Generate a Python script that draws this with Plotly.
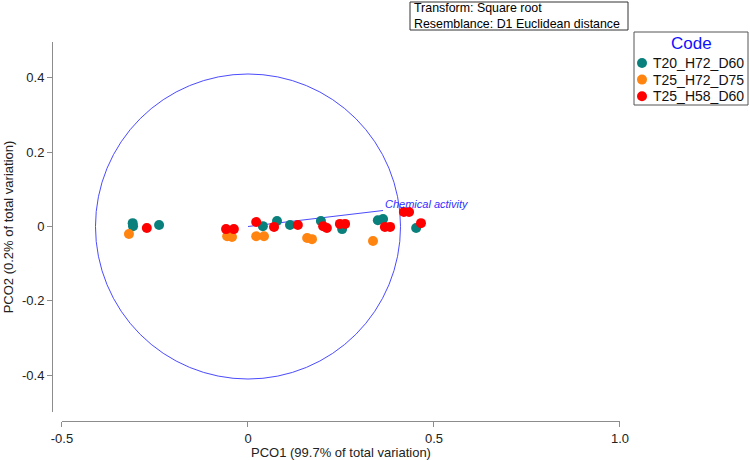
import plotly.graph_objects as go

# ---- data ----
groups = ["T20_H72_D60", "T25_H72_D75", "T25_H58_D60"]
colors = ["#0a807c", "#ff8410", "#ff0000"]

t20_x = [-0.310, -0.309, -0.239, 0.040, 0.078, 0.113, 0.196, 0.253, 0.349, 0.363, 0.452]
t20_y = [0.009, 0.001, 0.004, 0.001, 0.015, 0.004, 0.015, -0.007, 0.017, 0.020, -0.004]

t25a_x = [-0.320, -0.056, -0.043, 0.022, 0.043, 0.159, 0.172, 0.336]
t25a_y = [-0.020, -0.026, -0.028, -0.026, -0.026, -0.031, -0.034, -0.039]

t25b_x = [-0.272, -0.059, -0.038, 0.022, 0.070, 0.134, 0.202, 0.212, 0.247, 0.261,
          0.368, 0.382, 0.419, 0.433, 0.465]
t25b_y = [-0.004, -0.007, -0.007, 0.012, -0.001, 0.004, 0.001, -0.004, 0.007, 0.007,
          -0.001, -0.001, 0.039, 0.039, 0.009]

xs = [t20_x, t25a_x, t25b_x]
ys = [t20_y, t25a_y, t25b_y]

vector_name = "Chemical activity"
vector_end = (0.363, 0.043)
circle_r = 0.41

x_ticks = [-0.5, 0, 0.5, 1.0]
x_ticktext = ["-0.5", "0", "0.5", "1.0"]
y_ticks = [-0.4, -0.2, 0, 0.2, 0.4]
y_ticktext = ["-0.4", "-0.2", "0", "0.2", "0.4"]

info_lines = ["Transform: Square root", "Resemblance: D1 Euclidean distance"]
legend_title = "Code"

FONT = "Liberation Sans, Arial, sans-serif"
BLUE = "#4b4bff"
AXC = "#8c8c8c"

# plot-area geometry in pixels (for placing paper-referenced decorations)
W, H = 750, 460
ML, MR, MT, MB = 52, 130, 42, 39
PW, PH = W - ML - MR, H - MT - MB


def px(x):
    return (x - ML) / PW


def py(y):
    return (H - MB - y) / PH


fig = go.Figure()
for name, c, x, y in zip(groups, colors, xs, ys):
    fig.add_trace(go.Scatter(x=x, y=y, mode="markers", name=name, showlegend=False,
                             marker=dict(color=c, size=10, line=dict(width=0))))

# correlation circle and vector
fig.add_shape(type="circle", xref="x", yref="y",
              x0=-circle_r, x1=circle_r, y0=-circle_r, y1=circle_r,
              line=dict(color=BLUE, width=1), layer="below")
fig.add_shape(type="line", xref="x", yref="y", x0=0, y0=0,
              x1=vector_end[0], y1=vector_end[1],
              line=dict(color=BLUE, width=1), layer="below")
fig.add_annotation(x=vector_end[0] + 0.0, y=vector_end[1] + 0.017, xref="x", yref="y",
                   text="<i>" + vector_name + "</i>", showarrow=False,
                   xanchor="left", yanchor="middle",
                   font=dict(family=FONT, size=11, color="#3030ff"))

# info box
fig.add_shape(type="rect", xref="paper", yref="paper",
              x0=px(410), x1=px(628), y0=py(30), y1=py(2),
              line=dict(color="#333333", width=1), fillcolor="white")
fig.add_annotation(xref="paper", yref="paper", x=px(412), y=py(16),
                   xanchor="left", yanchor="middle", align="left", showarrow=False,
                   text="<br>".join(info_lines),
                   font=dict(family=FONT, size=12.4, color="#000000"))

# legend box (drawn manually to match the compact original layout)
fig.add_shape(type="rect", xref="paper", yref="paper",
              x0=px(634), x1=px(748), y0=py(105), y1=py(32),
              line=dict(color="#555555", width=1), fillcolor="white")
fig.add_annotation(xref="paper", yref="paper", x=px(691), y=py(44),
                   xanchor="center", yanchor="middle", showarrow=False,
                   text=legend_title,
                   font=dict(family=FONT, size=17, color="#1010ff"))
for i, (name, c) in enumerate(zip(groups, colors)):
    cy = 63 + 16.6 * i
    fig.add_shape(type="circle", xref="paper", yref="paper",
                  x0=px(637), x1=px(647), y0=py(cy + 5), y1=py(cy - 5),
                  line=dict(width=0), fillcolor=c)
    fig.add_annotation(xref="paper", yref="paper", x=px(651), y=py(cy),
                       xanchor="left", yanchor="middle", showarrow=False, text=name,
                       font=dict(family=FONT, size=14, color="#111111"))

fig.update_layout(
    width=W, height=H,
    margin=dict(l=ML, r=MR, t=MT, b=MB, autoexpand=False),
    paper_bgcolor="white", plot_bgcolor="white",
    font=dict(family=FONT, size=13, color="#222222"),
    showlegend=False,
    xaxis=dict(range=[-0.5, 1.0], domain=[0.0176, 1], anchor="free", position=0,
               showline=True, linecolor=AXC, linewidth=1, ticks="outside",
               ticklen=5, tickcolor=AXC, showgrid=False, zeroline=False,
               tickvals=x_ticks, ticktext=x_ticktext,
               tickfont=dict(family=FONT, size=13, color="#222222"),
               title=dict(text="PCO1 (99.7% of total variation)", standoff=2,
                          font=dict(family=FONT, size=13, color="#222222")),
               automargin=False),
    yaxis=dict(range=[-0.4987, 0.496], domain=[0.0237, 1], anchor="free", position=0,
               showline=True, linecolor=AXC, linewidth=1, ticks="outside",
               ticklen=5, tickcolor=AXC, showgrid=False, zeroline=False,
               tickvals=y_ticks, ticktext=y_ticktext,
               tickfont=dict(family=FONT, size=13, color="#222222"),
               title=dict(text="PCO2 (0.2% of total variation)", standoff=4,
                          font=dict(family=FONT, size=13, color="#222222")),
               automargin=False),
)

fig.write_html("out.html")
